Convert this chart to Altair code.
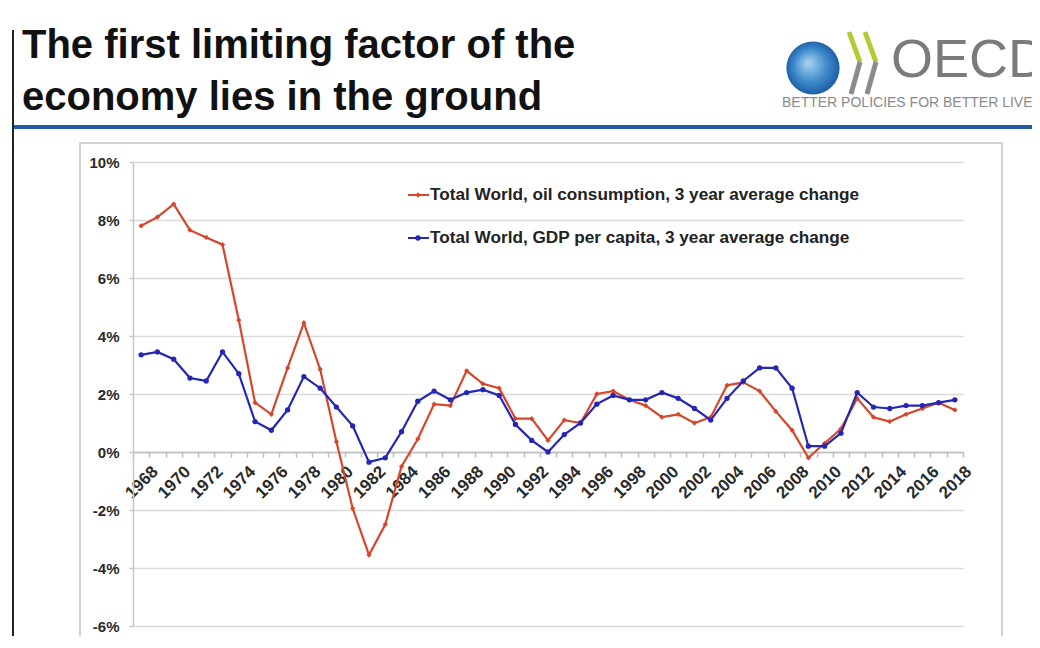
import altair as alt
import pandas as pd

# ---------------- data ----------------
years = list(range(1968, 2019))
oil = [7.8, 8.1, 8.55, 7.65, 7.4, 7.15, 4.55, 1.7, 1.3, 2.9,
       4.45, 2.85, 0.35, -1.95, -3.55, -2.5, -0.5, 0.45, 1.65, 1.6,
       2.8, 2.35, 2.2, 1.15, 1.15, 0.4, 1.1, 1.0, 2.0, 2.1,
       1.8, 1.6, 1.2, 1.3, 1.0, 1.2, 2.3, 2.4, 2.1, 1.4,
       0.75, -0.2, 0.3, 0.8, 1.85, 1.2, 1.05, 1.3, 1.5, 1.7, 1.45]
gdp = [3.35, 3.45, 3.2, 2.55, 2.45, 3.45, 2.7, 1.05, 0.75, 1.45,
       2.6, 2.2, 1.55, 0.9, -0.35, -0.2, 0.7, 1.75, 2.1, 1.8,
       2.05, 2.15, 1.95, 0.95, 0.4, 0.0, 0.6, 1.0, 1.65, 1.95,
       1.8, 1.8, 2.05, 1.85, 1.5, 1.1, 1.85, 2.45, 2.9, 2.9,
       2.2, 0.2, 0.2, 0.65, 2.05, 1.55, 1.5, 1.6, 1.6, 1.7, 1.8]
series_names = ["Total World, oil consumption, 3 year average change",
                "Total World, GDP per capita, 3 year average change"]
series_colors = ["#d4472b", "#2626b5"]
series_shapes = ["diamond", "circle"]
y_ticks = [-6, -4, -2, 0, 2, 4, 6, 8, 10]
x_label_years = list(range(1968, 2019, 2))
x_tick_bounds = [y - 0.5 for y in range(1968, 2020)]
title_lines = ["The first limiting factor of the", "economy lies in the ground"]
logo_word = "OECD"
logo_tagline = "BETTER POLICIES FOR BETTER LIVES"

W, H = 830, 464
Y_MIN, Y_MAX = -6, 10
FONT = "Liberation Sans"

df = pd.DataFrame({
    "year": years * 2,
    "value": oil + gdp,
    "series": [series_names[0]] * len(years) + [series_names[1]] * len(years),
})

one = pd.DataFrame({"k": [0]})

xscale = alt.Scale(domain=[1967.5, 2018.5], nice=False, zero=False)
yscale = alt.Scale(domain=[Y_MIN, Y_MAX], nice=False, zero=False)
cscale = alt.Scale(domain=series_names, range=series_colors)

x_axis = alt.Axis(
    values=x_tick_bounds + x_label_years,
    labelExpr="datum.value % 2 == 0 ? format(datum.value, 'd') : ''",
    tickOpacity={"condition": {"test": "datum.value % 1 != 0", "value": 1}, "value": 0},
    grid=False, title=None,
    offset=-(H * (0 - Y_MIN) / (Y_MAX - Y_MIN)),
    domainColor="#bdbdbd", domainWidth=1.5,
    tickColor="#bdbdbd", tickSize=5, tickWidth=1.5,
    labelAngle=-45, labelAlign="right", labelBaseline="top",
    labelPadding=6, labelOffset=8, labelOverlap=False, labelFlush=False, labelBound=False,
    labelFont=FONT, labelFontSize=17, labelFontWeight="bold", labelColor="#2a2a2a",
)
y_axis = alt.Axis(
    values=y_ticks, labelExpr="datum.value + '%'", title=None,
    grid=True, gridColor="#dadada", gridWidth=1.5,
    domainColor="#c8c8c8", domainWidth=1.5,
    tickColor="#c8c8c8", tickSize=4, tickWidth=1.5,
    labelPadding=10, labelFont=FONT, labelFontSize=15, labelFontWeight="bold",
    labelColor="#2a2a2a",
)

base = alt.Chart(df).encode(
    x=alt.X("year:Q", scale=xscale, axis=x_axis),
    y=alt.Y("value:Q", scale=yscale, axis=y_axis),
    color=alt.Color("series:N", scale=cscale, legend=None),
)

layers = []
for name, shape in zip(series_names, series_shapes):
    sub = base.transform_filter(alt.datum.series == name)
    layers.append(sub.mark_line(strokeWidth=2.2))
    layers.append(sub.mark_point(filled=True, shape=shape, size=28, opacity=1))

# ---------------- legend (manual) ----------------
for i, (name, col, shape) in enumerate(zip(series_names, series_colors, series_shapes)):
    yy = 33 + 43 * i
    layers.append(alt.Chart(one).mark_rule(color=col, strokeWidth=2).encode(
        x=alt.value(275), x2=alt.value(296), y=alt.value(yy)))
    layers.append(alt.Chart(one).mark_point(filled=True, shape=shape, size=28, color=col, opacity=1).encode(
        x=alt.value(285), y=alt.value(yy)))
    layers.append(alt.Chart(one).mark_text(text=name, align="left", baseline="middle", font=FONT,
                                           fontSize=17.2, fontWeight="bold", color="#222222").encode(
        x=alt.value(297), y=alt.value(yy)))

# ---------------- decorations ----------------
# outer chart frame
layers.append(alt.Chart(one).mark_rect(fill="transparent", stroke="#d2d2d2", strokeWidth=2).encode(
    x=alt.value(-53), x2=alt.value(869), y=alt.value(-19), y2=alt.value(480)))
# slide title
for i, line in enumerate(title_lines):
    layers.append(alt.Chart(one).mark_text(text=line, align="left", baseline="alphabetic", font=FONT,
                                           fontSize=40, fontWeight="bold", color="#111111").encode(
        x=alt.value(-111), y=alt.value(-104 + 52 * i)))
# blue separator line and black left edge
layers.append(alt.Chart(one).mark_rule(color="#1f5aa6", strokeWidth=4).encode(
    x=alt.value(-119), x2=alt.value(900), y=alt.value(-35)))
layers.append(alt.Chart(one).mark_rule(color="#222222", strokeWidth=2).encode(
    x=alt.value(-120), y=alt.value(-132), y2=alt.value(480)))
# OECD logo
layers.append(alt.Chart(one).mark_circle(size=2830, opacity=1, color={
    "gradient": "radial",
    "stops": [{"offset": 0, "color": "#a9d4f2"}, {"offset": 0.6, "color": "#3a86c8"},
              {"offset": 1, "color": "#17549c"}],
    "x1": 0.4, "y1": 0.4, "r1": 0, "x2": 0.5, "y2": 0.5, "r2": 0.55}).encode(
    x=alt.value(680), y=alt.value(-94)))
for dx in (0, 16):
    layers.append(alt.Chart(one).mark_rule(color="#b5c936", strokeWidth=5).encode(
        x=alt.value(716 + dx), y=alt.value(-130), x2=alt.value(727 + dx), y2=alt.value(-100)))
    layers.append(alt.Chart(one).mark_rule(color="#8c8c8c", strokeWidth=5).encode(
        x=alt.value(727 + dx), y=alt.value(-100), x2=alt.value(718 + dx), y2=alt.value(-68)))
layers.append(alt.Chart(one).mark_text(text=logo_word, align="left", baseline="alphabetic", font=FONT,
                                       fontSize=54, color="#7b7b7b").encode(
    x=alt.value(758), y=alt.value(-85)))
layers.append(alt.Chart(one).mark_text(text=logo_tagline, align="left", baseline="alphabetic", font=FONT,
                                       fontSize=14, color="#8a8a8a").encode(
    x=alt.value(649), y=alt.value(-55)))

chart = alt.layer(*layers).properties(
    width=W, height=H,
    autosize=alt.AutoSizeParams(type="none"),
    padding={"left": 125, "top": 154, "right": 69, "bottom": 10},
    background="white",
).configure_view(stroke=None)

chart.save("out.html", embed_options={"renderer": "svg", "actions": False})
